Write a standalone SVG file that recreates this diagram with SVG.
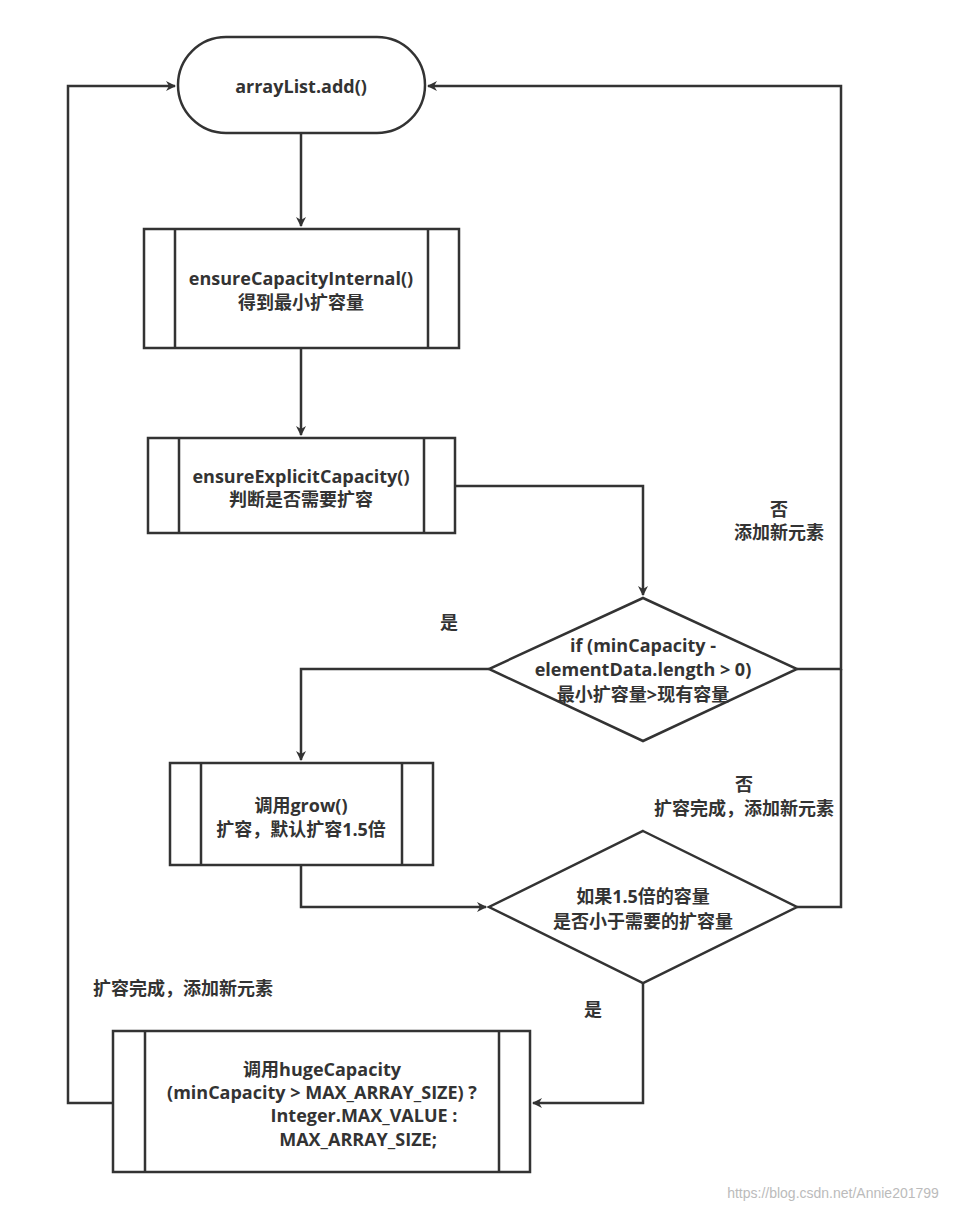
<svg xmlns="http://www.w3.org/2000/svg" width="963" height="1210" viewBox="0 0 963 1210">
<defs>
<marker id="ah" markerWidth="10" markerHeight="10" refX="9" refY="5" orient="auto" markerUnits="userSpaceOnUse" viewBox="0 0 10 10">
<path d="M0,0 L10,5 L0,10 L3,5 Z" fill="#333"/>
</marker>
<style>
.s{fill:#fff;stroke:#333;stroke-width:2.5}
.l{fill:none;stroke:#333;stroke-width:2.5}
.t{font-family:"Open Sans","Noto Sans CJK SC",sans-serif;font-size:18px;font-weight:bold;fill:#333;text-anchor:middle}
.w{font-family:"Liberation Sans",sans-serif;font-size:14px;fill:#bbb;text-anchor:middle}
</style>
</defs>
<rect width="963" height="1210" fill="#fff"/>
<g id="connectors">
<path class="l" d="M301,133 V226" marker-end="url(#ah)"/>
<path class="l" d="M301,348 V435" marker-end="url(#ah)"/>
<path class="l" d="M455,486 H643 V595" marker-end="url(#ah)"/>
<path class="l" d="M489,669 H301 V760" marker-end="url(#ah)"/>
<path class="l" d="M797,669 H841 V86 H428" marker-end="url(#ah)"/>
<path class="l" d="M301,865 V907 H486" marker-end="url(#ah)"/>
<path class="l" d="M797,907 H841 V669"/>
<path class="l" d="M643,983 V1103 H533" marker-end="url(#ah)"/>
<path class="l" d="M113,1103 H68 V86 H175" marker-end="url(#ah)"/>
<text class="t" x="449" y="629" font-weight="normal">是</text>
<text class="t" x="779" y="516">否</text>
<text class="t" x="779" y="539">添加新元素</text>
<text class="t" x="744" y="791">否</text>
<text class="t" x="744" y="815">扩容完成，添加新元素</text>
<text class="t" x="593" y="1016" font-weight="normal">是</text>
<text class="t" x="183" y="995">扩容完成，添加新元素</text>
</g>
<g id="start">
<rect class="s" x="178" y="37" width="247" height="96" rx="48"/>
<text class="t" x="301" y="93">arrayList.add()</text>
</g>
<g id="p1">
<rect class="s" x="144" y="229" width="315" height="119"/>
<path class="l" d="M175,229 V348 M428,229 V348"/>
<text class="t" x="301" y="285">ensureCapacityInternal()</text>
<text class="t" x="301" y="309">得到最小扩容量</text>
</g>
<g id="p2">
<rect class="s" x="148" y="438" width="307" height="95"/>
<path class="l" d="M179,438 V533 M424,438 V533"/>
<text class="t" x="301" y="483">ensureExplicitCapacity()</text>
<text class="t" x="301" y="506">判断是否需要扩容</text>
</g>
<g id="d1">
<polygon class="s" points="643,598 797,669 643,741 489,669"/>
<text class="t" x="643" y="652">if (minCapacity -</text>
<text class="t" x="643" y="676">elementData.length &gt; 0)</text>
<text class="t" x="643" y="701">最小扩容量&gt;现有容量</text>
</g>
<g id="grow">
<rect class="s" x="170" y="763" width="263" height="102"/>
<path class="l" d="M201,763 V865 M402,763 V865"/>
<text class="t" x="301" y="812">调用grow()</text>
<text class="t" x="301" y="836">扩容，默认扩容1.5倍</text>
</g>
<g id="d2">
<polygon class="s" points="643,831 797,907 643,983 489,907"/>
<text class="t" x="643" y="903">如果1.5倍的容量</text>
<text class="t" x="643" y="928">是否小于需要的扩容量</text>
</g>
<g id="huge">
<rect class="s" x="113" y="1031" width="417" height="141"/>
<path class="l" d="M145,1031 V1172 M499,1031 V1172"/>
<text class="t" x="322" y="1076">调用hugeCapacity</text>
<text class="t" x="322" y="1099">(minCapacity &gt; MAX_ARRAY_SIZE) ?</text>
<text class="t" x="364" y="1122">Integer.MAX_VALUE :</text>
<text class="t" x="358" y="1146">MAX_ARRAY_SIZE;</text>
</g>
<text class="w" x="833" y="1198">https://blog.csdn.net/Annie201799</text>
</svg>
